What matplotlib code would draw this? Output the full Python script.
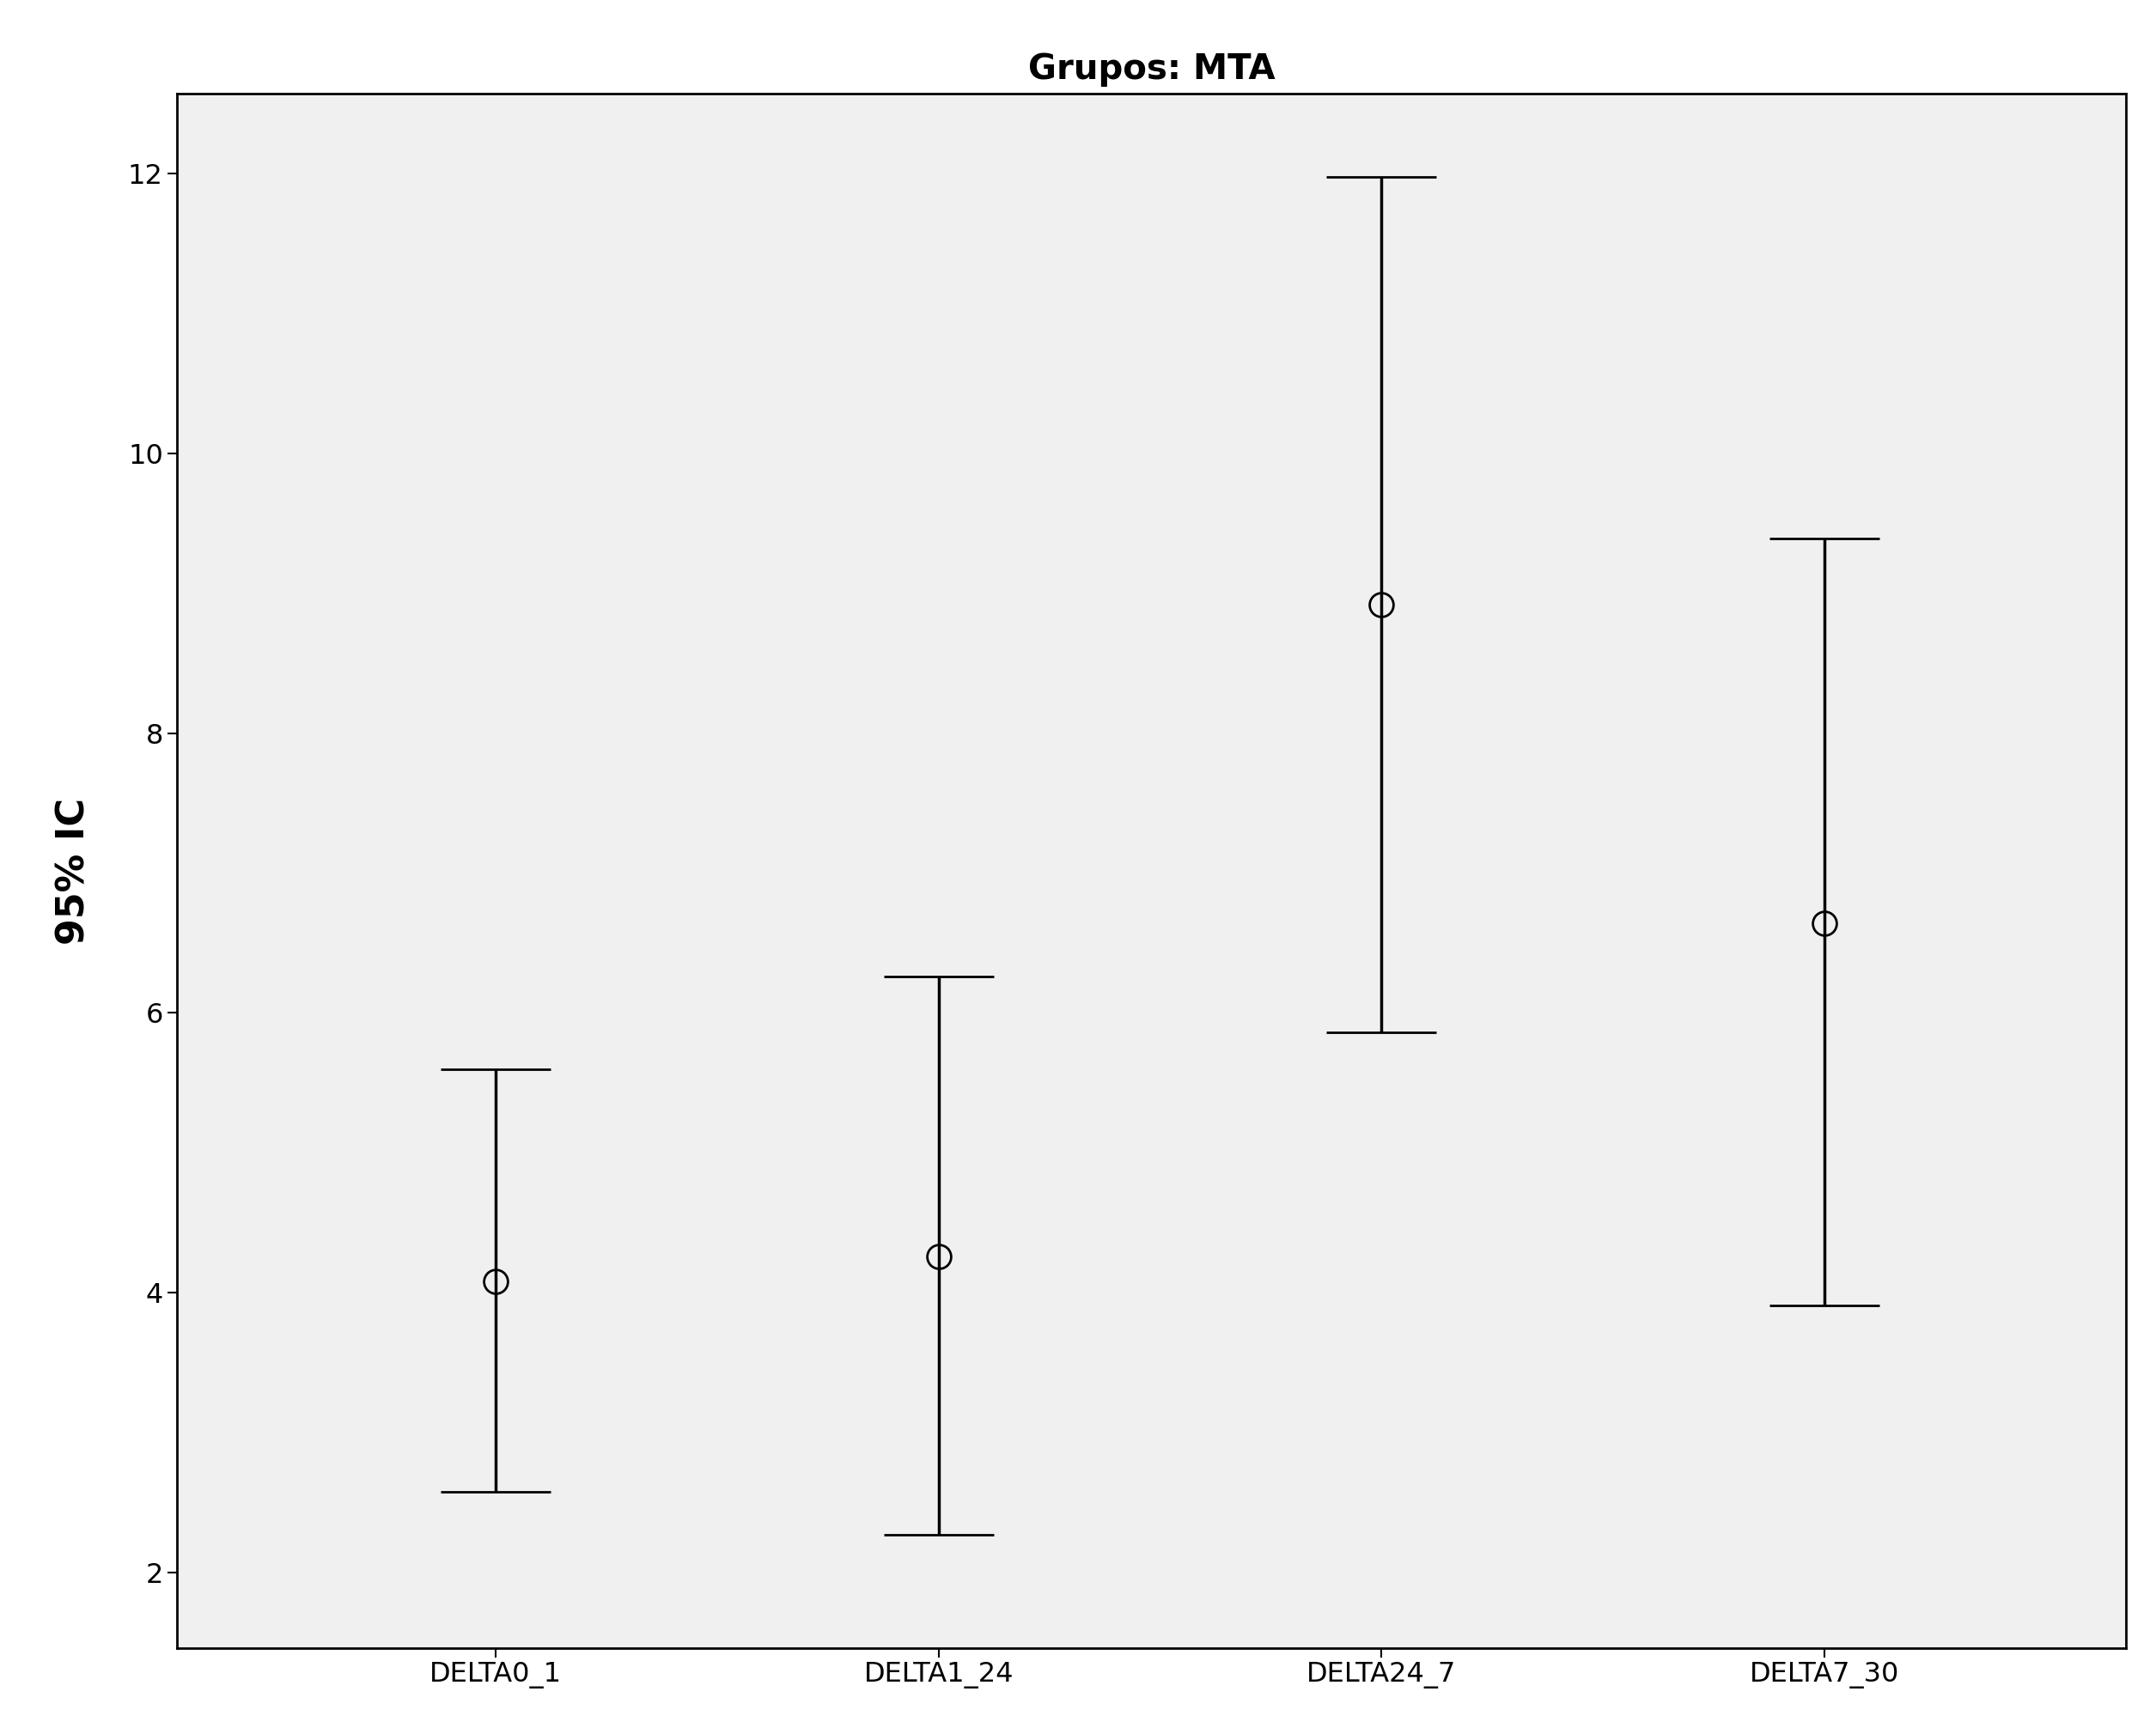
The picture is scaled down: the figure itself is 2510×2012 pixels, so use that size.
import numpy as np
import matplotlib.pyplot as plt

categories = ["DELTA0_1", "DELTA1_24", "DELTA24_7", "DELTA7_30"]
means = [4.08, 4.26, 8.92, 6.64]
lower = [2.58, 2.27, 5.86, 3.91]
upper = [5.60, 6.26, 11.97, 9.39]

fig = plt.figure(figsize=(25.1, 20.12), dpi=100)
ax = fig.add_axes([0.082, 0.046, 0.904, 0.9])
ax.set_facecolor("#f0f0f0")

x = np.arange(len(categories))
m = np.array(means)
err = [m - np.array(lower), np.array(upper) - m]
ax.errorbar(x, m, yerr=err, fmt="o", mfc="none", mec="black", ms=20, mew=2,
            ecolor="black", elinewidth=2.5, capsize=46, capthick=2.5)

ax.set_xlim(-0.72, 3.68)
ax.set_ylim(1.46, 12.57)
ax.set_yticks([2, 4, 6, 8, 10, 12])
ax.set_xticks(x)
ax.set_xticklabels(categories)
ax.tick_params(labelsize=23, length=8, width=1.5)
for s in ax.spines.values():
    s.set_linewidth(2)
ax.set_ylabel("95% IC", fontsize=32, fontweight="bold", labelpad=30)
ax.set_title("Grupos: MTA", fontsize=29, fontweight="bold", pad=12)

fig.savefig("out.png", dpi=100)
